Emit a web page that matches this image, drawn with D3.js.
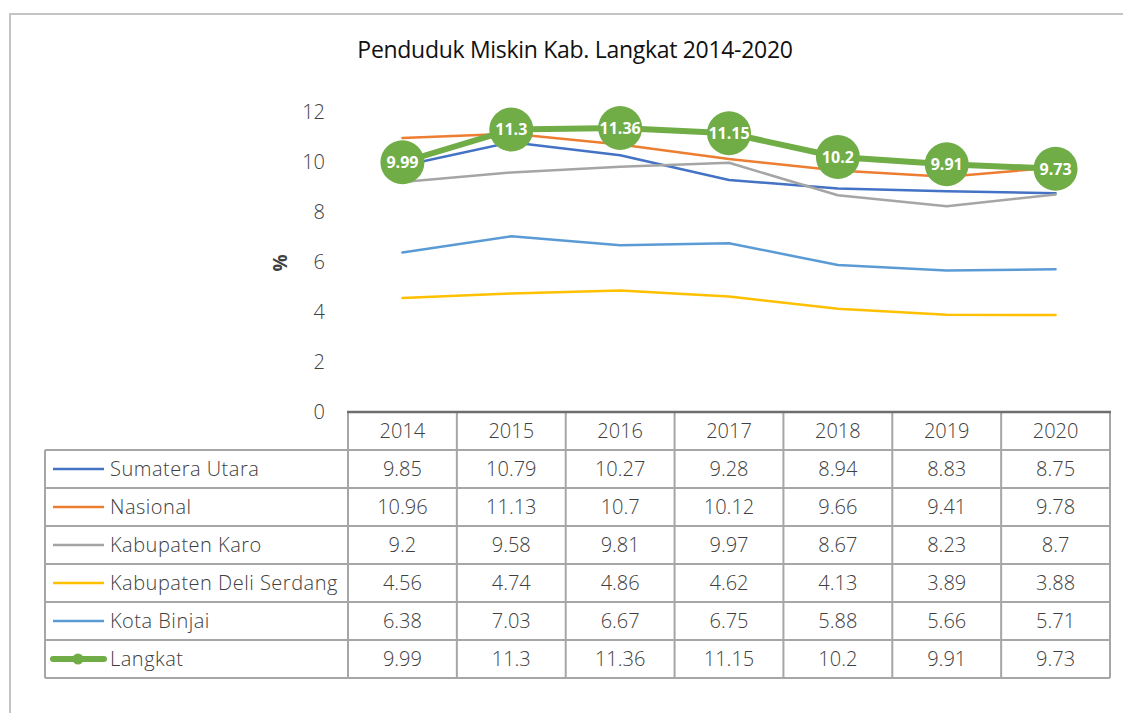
<!DOCTYPE html>
<html>
<head>
<meta charset="utf-8">
<script src="https://cdn.jsdelivr.net/npm/d3@7"></script>
<style>
  body { margin: 0; background: #fff; }
  text { font-family: "Open Sans", "Noto Sans", sans-serif; fill: #404040; }
</style>
</head>
<body>
<div id="chart"></div>
<script>
// data
var years = ["2014", "2015", "2016", "2017", "2018", "2019", "2020"];
var seriesNames = ["Sumatera Utara", "Nasional", "Kabupaten Karo", "Kabupaten Deli Serdang", "Kota Binjai", "Langkat"];
var sumut = [9.85, 10.79, 10.27, 9.28, 8.94, 8.83, 8.75];
var nasional = [10.96, 11.13, 10.7, 10.12, 9.66, 9.41, 9.78];
var karo = [9.2, 9.58, 9.81, 9.97, 8.67, 8.23, 8.7];
var deliSerdang = [4.56, 4.74, 4.86, 4.62, 4.13, 3.89, 3.88];
var binjai = [6.38, 7.03, 6.67, 6.75, 5.88, 5.66, 5.71];
var langkat = [9.99, 11.3, 11.36, 11.15, 10.2, 9.91, 9.73];
var yTicks = [0, 2, 4, 6, 8, 10, 12];

var seriesValues = [sumut, nasional, karo, deliSerdang, binjai, langkat];
var colors = ["#4472C4", "#ED7D31", "#A5A5A5", "#FFC000", "#5B9BD5", "#70AD47"];

var width = 1123, height = 713;

var svg = d3.select("#chart")
    .append("svg")
    .attr("width", width)
    .attr("height", height);

// outer frame (only top and left visible)
svg.append("path")
    .attr("d", "M10," + height + "V14H" + width)
    .attr("fill", "none")
    .attr("stroke", "#c4c4c4")
    .attr("stroke-width", 2);

// title
svg.append("text")
    .attr("x", 575)
    .attr("y", 58)
    .attr("text-anchor", "middle")
    .style("font-size", "23px")
    .style("fill", "#111")
    .style("letter-spacing", "-0.3px")
    .text("Penduduk Miskin Kab. Langkat 2014-2020");

// scales
var plotLeft = 348, plotRight = 1110, plotTop = 112, plotBottom = 412;
var xScale = d3.scaleBand()
    .domain(years)
    .range([plotLeft, plotRight]);

var yScale = d3.scaleLinear()
    .domain([0, 12])
    .range([plotBottom, plotTop]);

// y axis labels
var yAxis = d3.axisLeft(yScale).tickValues(yTicks).tickSize(0).tickPadding(23);
var yG = svg.append("g")
    .attr("transform", `translate(${plotLeft}, 0)`)
    .call(yAxis);
yG.select(".domain").remove();
yG.selectAll("text")
    .style("font-size", "20px")
    .style("font-family", "'Open Sans', sans-serif")
    .style("font-weight", 300)
    .style("fill", "#404040")
    .attr("dy", "0.32em");

svg.append("text")
    .attr("transform", "translate(280, 263) rotate(-90)")
    .attr("text-anchor", "middle")
    .attr("dy", "0.35em")
    .style("font-size", "19px")
    .style("font-weight", "bold")
    .text("%");

// lines
var line = d3.line()
    .x((d, i) => xScale(years[i]) + xScale.bandwidth() / 2)
    .y(d => yScale(d));

var linesGroup = svg.append("g");
seriesValues.forEach(function(vals, s) {
    linesGroup.append("path")
        .datum(vals)
        .attr("d", line)
        .attr("fill", "none")
        .attr("stroke", colors[s])
        .attr("stroke-width", s === 5 ? 6 : 2.5)
        .attr("stroke-linejoin", "round")
        .attr("stroke-linecap", "round");
});

// langkat markers and labels
var markers = svg.append("g")
    .selectAll("g")
    .data(langkat)
    .enter()
    .append("g")
    .attr("transform", (d, i) => `translate(${xScale(years[i]) + xScale.bandwidth() / 2}, ${yScale(d)})`);

markers.append("circle")
    .attr("r", 22)
    .attr("fill", "#70AD47");

markers.append("text")
    .attr("text-anchor", "middle")
    .attr("dy", "0.36em")
    .style("font-size", "16px")
    .style("font-weight", "bold")
    .style("fill", "#fff")
    .text(d => d);

// data table
var tableLeft = 45, headerTop = plotBottom, rowH = 38;
var bodyTop = headerTop + rowH;
var tableBottom = bodyTop + rowH * seriesNames.length;
var grid = svg.append("g")
    .attr("stroke", "#a6a6a6")
    .attr("stroke-width", 2);

// vertical lines
var vx = years.map(y => xScale(y)).concat([plotRight]);
vx.forEach(function(x) {
    grid.append("line")
        .attr("x1", x).attr("x2", x)
        .attr("y1", headerTop).attr("y2", tableBottom);
});
grid.append("line")
    .attr("x1", tableLeft).attr("x2", tableLeft)
    .attr("y1", bodyTop).attr("y2", tableBottom);

// horizontal lines
d3.range(seriesNames.length + 1).forEach(function(r) {
    grid.append("line")
        .attr("x1", tableLeft).attr("x2", plotRight)
        .attr("y1", bodyTop + r * rowH).attr("y2", bodyTop + r * rowH);
});

// axis line on top of header
svg.append("line")
    .attr("x1", plotLeft - 1).attr("x2", plotRight + 1)
    .attr("y1", plotBottom).attr("y2", plotBottom)
    .attr("stroke", "#6e6e6e")
    .attr("stroke-width", 2.5);

// header years
svg.append("g")
    .selectAll("text")
    .data(years)
    .enter()
    .append("text")
    .attr("x", d => xScale(d) + xScale.bandwidth() / 2)
    .attr("y", headerTop + rowH / 2)
    .attr("dy", "0.36em")
    .attr("text-anchor", "middle")
    .style("font-size", "20px")
    .style("font-weight", 300)
    .text(d => d);

// body rows
seriesNames.forEach(function(name, s) {
    var cy = bodyTop + s * rowH + rowH / 2;
    var row = svg.append("g");
    row.append("line")
        .attr("x1", 53).attr("x2", 104)
        .attr("y1", cy).attr("y2", cy)
        .attr("stroke", colors[s])
        .attr("stroke-width", s === 5 ? 6 : 2.5)
        .attr("stroke-linecap", s === 5 ? "round" : "butt");
    if (s === 5) {
        row.append("circle")
            .attr("cx", 78).attr("cy", cy)
            .attr("r", 5.5)
            .attr("fill", colors[s]);
    }
    row.append("text")
        .attr("x", 110)
        .attr("y", cy)
        .attr("dy", "0.36em")
        .style("font-size", "20px")
        .style("font-weight", 300)
        .style("letter-spacing", "0.5px")
        .text(name);
    row.selectAll(".val")
        .data(seriesValues[s])
        .enter()
        .append("text")
        .attr("class", "val")
        .attr("x", (d, i) => xScale(years[i]) + xScale.bandwidth() / 2)
        .attr("y", cy)
        .attr("dy", "0.36em")
        .attr("text-anchor", "middle")
        .style("font-size", "20px")
        .style("font-weight", 300)
        .text(d => d);
});
</script>
</body>
</html>
